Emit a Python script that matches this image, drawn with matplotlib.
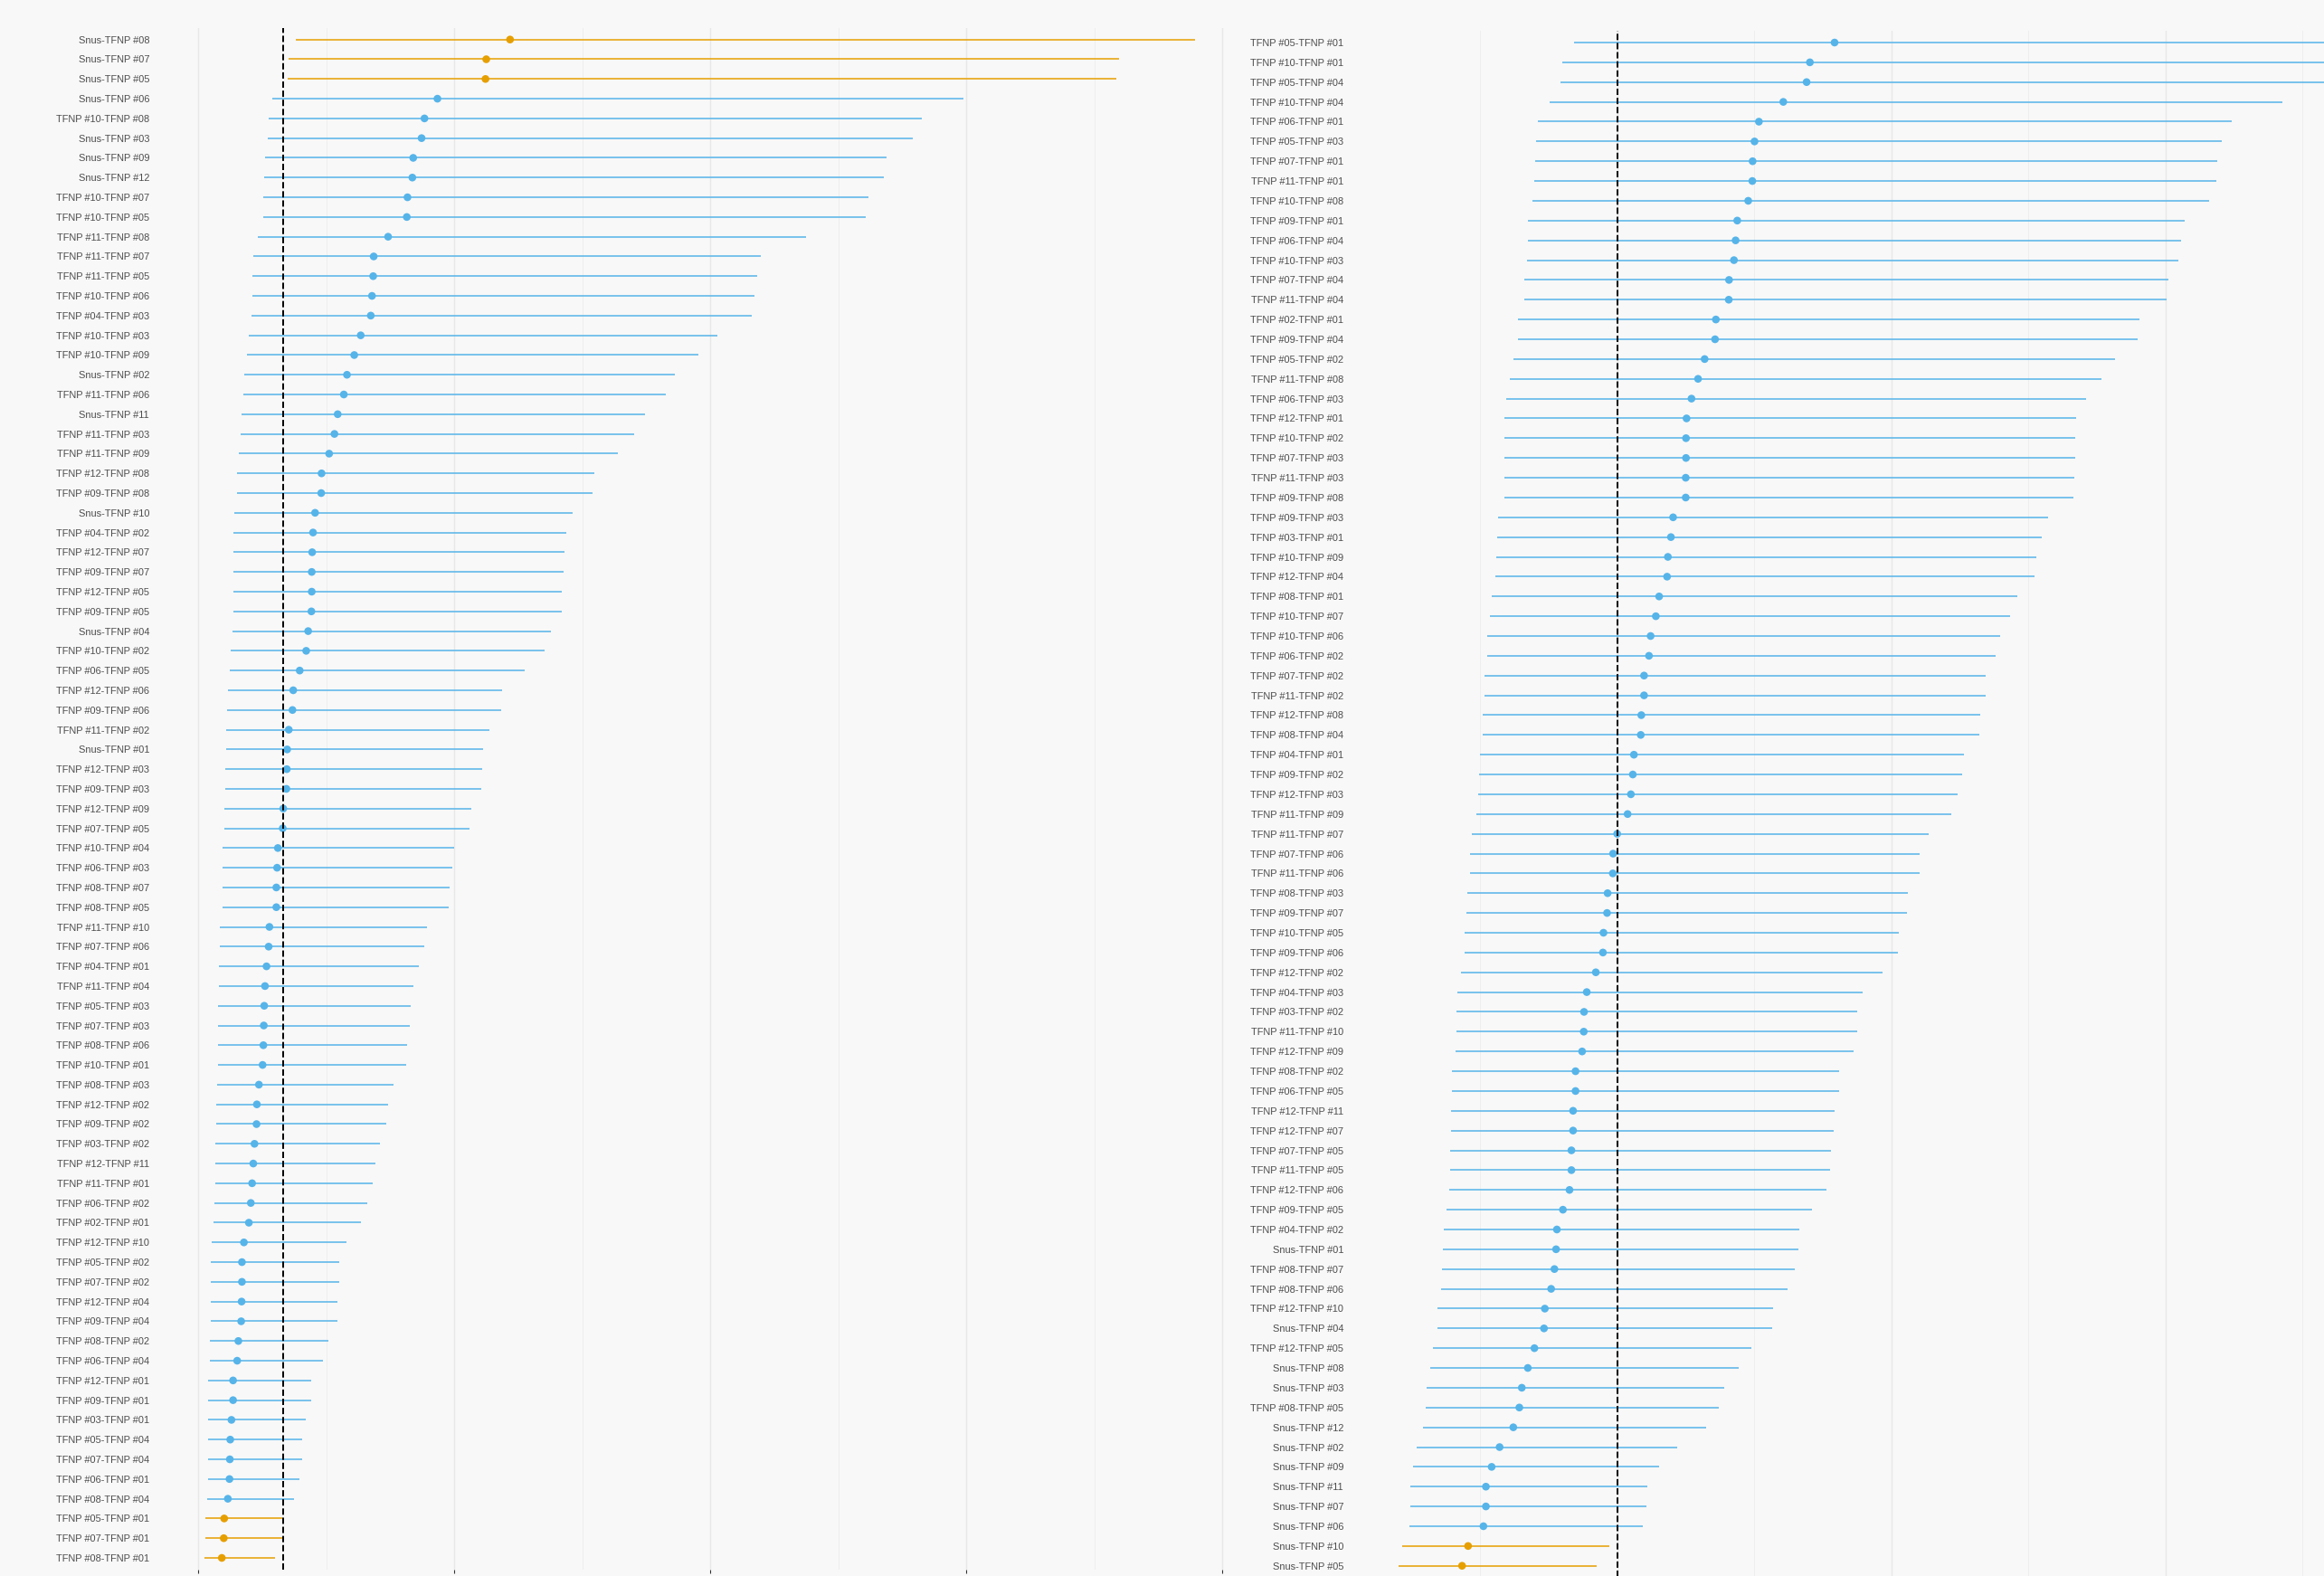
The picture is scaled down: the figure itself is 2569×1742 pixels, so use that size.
import numpy as np
import matplotlib.pyplot as plt

# pairwise product comparisons, ratio with 95% CI (two outcomes, one per panel)
left_labels = [
    'Snus-TFNP #08', 'Snus-TFNP #07', 'Snus-TFNP #05', 'Snus-TFNP #06', 'TFNP #10-TFNP #08',
    'Snus-TFNP #03', 'Snus-TFNP #09', 'Snus-TFNP #12', 'TFNP #10-TFNP #07', 'TFNP #10-TFNP #05',
    'TFNP #11-TFNP #08', 'TFNP #11-TFNP #07', 'TFNP #11-TFNP #05', 'TFNP #10-TFNP #06', 'TFNP #04-TFNP #03',
    'TFNP #10-TFNP #03', 'TFNP #10-TFNP #09', 'Snus-TFNP #02', 'TFNP #11-TFNP #06', 'Snus-TFNP #11',
    'TFNP #11-TFNP #03', 'TFNP #11-TFNP #09', 'TFNP #12-TFNP #08', 'TFNP #09-TFNP #08', 'Snus-TFNP #10',
    'TFNP #04-TFNP #02', 'TFNP #12-TFNP #07', 'TFNP #09-TFNP #07', 'TFNP #12-TFNP #05', 'TFNP #09-TFNP #05',
    'Snus-TFNP #04', 'TFNP #10-TFNP #02', 'TFNP #06-TFNP #05', 'TFNP #12-TFNP #06', 'TFNP #09-TFNP #06',
    'TFNP #11-TFNP #02', 'Snus-TFNP #01', 'TFNP #12-TFNP #03', 'TFNP #09-TFNP #03', 'TFNP #12-TFNP #09',
    'TFNP #07-TFNP #05', 'TFNP #10-TFNP #04', 'TFNP #06-TFNP #03', 'TFNP #08-TFNP #07', 'TFNP #08-TFNP #05',
    'TFNP #11-TFNP #10', 'TFNP #07-TFNP #06', 'TFNP #04-TFNP #01', 'TFNP #11-TFNP #04', 'TFNP #05-TFNP #03',
    'TFNP #07-TFNP #03', 'TFNP #08-TFNP #06', 'TFNP #10-TFNP #01', 'TFNP #08-TFNP #03', 'TFNP #12-TFNP #02',
    'TFNP #09-TFNP #02', 'TFNP #03-TFNP #02', 'TFNP #12-TFNP #11', 'TFNP #11-TFNP #01', 'TFNP #06-TFNP #02',
    'TFNP #02-TFNP #01', 'TFNP #12-TFNP #10', 'TFNP #05-TFNP #02', 'TFNP #07-TFNP #02', 'TFNP #12-TFNP #04',
    'TFNP #09-TFNP #04', 'TFNP #08-TFNP #02', 'TFNP #06-TFNP #04', 'TFNP #12-TFNP #01', 'TFNP #09-TFNP #01',
    'TFNP #03-TFNP #01', 'TFNP #05-TFNP #04', 'TFNP #07-TFNP #04', 'TFNP #06-TFNP #01', 'TFNP #08-TFNP #04',
    'TFNP #05-TFNP #01', 'TFNP #07-TFNP #01', 'TFNP #08-TFNP #01',
]
left_est = np.array([
    3.655, 3.376, 3.367, 2.804, 2.652, 2.618, 2.520, 2.510, 2.453, 2.445,
    2.226, 2.057, 2.051, 2.037, 2.023, 1.905, 1.829, 1.744, 1.707, 1.635,
    1.597, 1.535, 1.446, 1.442, 1.370, 1.346, 1.336, 1.331, 1.331, 1.327,
    1.289, 1.266, 1.190, 1.114, 1.105, 1.062, 1.043, 1.039, 1.034, 0.997,
    0.991, 0.934, 0.925, 0.916, 0.916, 0.835, 0.826, 0.801, 0.783, 0.774,
    0.769, 0.764, 0.755, 0.712, 0.688, 0.684, 0.660, 0.646, 0.632, 0.617,
    0.594, 0.536, 0.513, 0.513, 0.509, 0.504, 0.471, 0.457, 0.409, 0.409,
    0.390, 0.376, 0.371, 0.367, 0.348, 0.305, 0.300, 0.277,
])
left_lo = np.array([
    1.143, 1.062, 1.048, 0.872, 0.830, 0.816, 0.783, 0.778, 0.763, 0.759,
    0.698, 0.641, 0.636, 0.636, 0.625, 0.594, 0.575, 0.541, 0.532, 0.509,
    0.494, 0.480, 0.452, 0.452, 0.423, 0.413, 0.413, 0.409, 0.409, 0.409,
    0.400, 0.386, 0.367, 0.348, 0.342, 0.329, 0.324, 0.319, 0.319, 0.310,
    0.310, 0.281, 0.281, 0.281, 0.281, 0.253, 0.253, 0.244, 0.244, 0.234,
    0.234, 0.234, 0.234, 0.219, 0.210, 0.210, 0.201, 0.196, 0.196, 0.191,
    0.182, 0.158, 0.148, 0.148, 0.148, 0.148, 0.139, 0.139, 0.121, 0.121,
    0.121, 0.111, 0.111, 0.111, 0.102, 0.087, 0.087, 0.077,
])
left_hi = np.array([
    11.678, 10.792, 10.757, 8.968, 8.481, 8.375, 8.067, 8.030, 7.855, 7.821,
    7.124, 6.589, 6.551, 6.520, 6.485, 6.085, 5.859, 5.581, 5.476, 5.234,
    5.110, 4.919, 4.640, 4.626, 4.389, 4.318, 4.290, 4.281, 4.266, 4.256,
    4.129, 4.062, 3.822, 3.557, 3.547, 3.409, 3.344, 3.329, 3.319, 3.196,
    3.178, 2.998, 2.979, 2.950, 2.936, 2.681, 2.652, 2.587, 2.520, 2.487,
    2.477, 2.445, 2.435, 2.288, 2.222, 2.207, 2.127, 2.075, 2.042, 1.980,
    1.909, 1.739, 1.650, 1.650, 1.635, 1.630, 1.521, 1.464, 1.323, 1.323,
    1.266, 1.214, 1.214, 1.185, 1.124, 0.982, 0.982, 0.901,
])

right_labels = [
    'TFNP #05-TFNP #01', 'TFNP #10-TFNP #01', 'TFNP #05-TFNP #04', 'TFNP #10-TFNP #04', 'TFNP #06-TFNP #01',
    'TFNP #05-TFNP #03', 'TFNP #07-TFNP #01', 'TFNP #11-TFNP #01', 'TFNP #10-TFNP #08', 'TFNP #09-TFNP #01',
    'TFNP #06-TFNP #04', 'TFNP #10-TFNP #03', 'TFNP #07-TFNP #04', 'TFNP #11-TFNP #04', 'TFNP #02-TFNP #01',
    'TFNP #09-TFNP #04', 'TFNP #05-TFNP #02', 'TFNP #11-TFNP #08', 'TFNP #06-TFNP #03', 'TFNP #12-TFNP #01',
    'TFNP #10-TFNP #02', 'TFNP #07-TFNP #03', 'TFNP #11-TFNP #03', 'TFNP #09-TFNP #08', 'TFNP #09-TFNP #03',
    'TFNP #03-TFNP #01', 'TFNP #10-TFNP #09', 'TFNP #12-TFNP #04', 'TFNP #08-TFNP #01', 'TFNP #10-TFNP #07',
    'TFNP #10-TFNP #06', 'TFNP #06-TFNP #02', 'TFNP #07-TFNP #02', 'TFNP #11-TFNP #02', 'TFNP #12-TFNP #08',
    'TFNP #08-TFNP #04', 'TFNP #04-TFNP #01', 'TFNP #09-TFNP #02', 'TFNP #12-TFNP #03', 'TFNP #11-TFNP #09',
    'TFNP #11-TFNP #07', 'TFNP #07-TFNP #06', 'TFNP #11-TFNP #06', 'TFNP #08-TFNP #03', 'TFNP #09-TFNP #07',
    'TFNP #10-TFNP #05', 'TFNP #09-TFNP #06', 'TFNP #12-TFNP #02', 'TFNP #04-TFNP #03', 'TFNP #03-TFNP #02',
    'TFNP #11-TFNP #10', 'TFNP #12-TFNP #09', 'TFNP #08-TFNP #02', 'TFNP #06-TFNP #05', 'TFNP #12-TFNP #11',
    'TFNP #12-TFNP #07', 'TFNP #07-TFNP #05', 'TFNP #11-TFNP #05', 'TFNP #12-TFNP #06', 'TFNP #09-TFNP #05',
    'TFNP #04-TFNP #02', 'Snus-TFNP #01', 'TFNP #08-TFNP #07', 'TFNP #08-TFNP #06', 'TFNP #12-TFNP #10',
    'Snus-TFNP #04', 'TFNP #12-TFNP #05', 'Snus-TFNP #08', 'Snus-TFNP #03', 'TFNP #08-TFNP #05',
    'Snus-TFNP #12', 'Snus-TFNP #02', 'Snus-TFNP #09', 'Snus-TFNP #11', 'Snus-TFNP #07',
    'Snus-TFNP #06', 'Snus-TFNP #10', 'Snus-TFNP #05',
]
right_est = np.array([
    1.792, 1.702, 1.690, 1.605, 1.516, 1.500, 1.493, 1.492, 1.477, 1.437,
    1.431, 1.425, 1.407, 1.406, 1.359, 1.356, 1.318, 1.294, 1.270, 1.252,
    1.250, 1.250, 1.249, 1.249, 1.203, 1.195, 1.184, 1.181, 1.152, 1.140,
    1.121, 1.115, 1.097, 1.097, 1.087, 1.085, 1.060, 1.056, 1.049, 1.037,
    0.999, 0.984, 0.983, 0.964, 0.962, 0.949, 0.947, 0.921, 0.888, 0.878,
    0.877, 0.871, 0.847, 0.847, 0.838, 0.838, 0.832, 0.832, 0.825, 0.801,
    0.779, 0.776, 0.770, 0.758, 0.735, 0.732, 0.697, 0.673, 0.651, 0.642,
    0.620, 0.570, 0.541, 0.520, 0.520, 0.511, 0.455, 0.433,
])
right_lo = np.array([
    0.840, 0.798, 0.792, 0.752, 0.711, 0.704, 0.701, 0.698, 0.691, 0.673,
    0.672, 0.670, 0.660, 0.660, 0.638, 0.638, 0.619, 0.608, 0.595, 0.586,
    0.586, 0.586, 0.586, 0.586, 0.564, 0.560, 0.557, 0.554, 0.541, 0.535,
    0.526, 0.524, 0.515, 0.515, 0.509, 0.508, 0.498, 0.495, 0.492, 0.486,
    0.470, 0.462, 0.461, 0.452, 0.449, 0.443, 0.443, 0.430, 0.415, 0.411,
    0.411, 0.408, 0.397, 0.397, 0.393, 0.393, 0.390, 0.390, 0.386, 0.377,
    0.367, 0.364, 0.361, 0.356, 0.343, 0.343, 0.328, 0.316, 0.304, 0.302,
    0.292, 0.268, 0.255, 0.244, 0.244, 0.241, 0.215, 0.203,
])
right_hi = np.array([
    3.820, 3.630, 3.610, 3.427, 3.240, 3.205, 3.189, 3.186, 3.158, 3.068,
    3.056, 3.045, 3.009, 3.004, 2.903, 2.897, 2.816, 2.766, 2.711, 2.674,
    2.671, 2.671, 2.667, 2.664, 2.571, 2.548, 2.528, 2.521, 2.458, 2.433,
    2.395, 2.381, 2.344, 2.343, 2.322, 2.321, 2.264, 2.256, 2.240, 2.218,
    2.134, 2.102, 2.102, 2.060, 2.056, 2.026, 2.023, 1.966, 1.895, 1.874,
    1.873, 1.860, 1.808, 1.807, 1.792, 1.789, 1.779, 1.776, 1.763, 1.711,
    1.662, 1.659, 1.648, 1.621, 1.569, 1.563, 1.489, 1.441, 1.390, 1.370,
    1.325, 1.218, 1.153, 1.110, 1.107, 1.091, 0.972, 0.925,
])

BLUE = '#56B4E9'
ORANGE = '#E69F00'
BG = '#f8f8f8'

plt.rcParams['font.family'] = ['Liberation Sans', 'DejaVu Sans']


def forest(ax, labels, est, lo, hi, major, minor):
    """one forest panel: CI segments, point estimates, dashed null line at 1"""
    n = len(labels)
    y = np.arange(1, n + 1)
    # orange when the interval does not cover 1
    sig = (lo > 1) | (hi < 1)
    colors = [ORANGE if s else BLUE for s in sig]

    ax.set_facecolor(BG)
    ax.set_xticks(major)
    ax.set_xticks(minor, minor=True)
    ax.grid(axis='x', which='major', color='#e8e8e8', lw=1.0, zorder=0)
    ax.grid(axis='x', which='minor', color='#ececec', lw=0.55, zorder=0)
    ax.grid(axis='y', visible=False)

    ax.hlines(y, lo, hi, colors=colors, lw=1.1, zorder=2)
    ax.scatter(est, y, c=colors, s=38, linewidths=0, zorder=3)
    ax.axvline(1, color='black', lw=1.4, ls=(0, (3.6, 1.6)), zorder=4)

    ax.set_yticks(y)
    ax.set_yticklabels(labels)
    ax.set_ylim(n + 0.6, 0.4)
    for s in ax.spines.values():
        s.set_visible(False)
    ax.tick_params(axis='y', length=0, pad=4.7, labelsize=7.9, labelcolor='#4d4d4d')
    ax.tick_params(axis='x', which='major', length=3, width=0.8, color='#333333',
                   labelbottom=False)
    ax.tick_params(axis='x', which='minor', length=0)


fig = plt.figure(figsize=(25.69, 17.42), dpi=100, facecolor=BG)

ax1 = fig.add_axes([0.06680, 0.00397, 0.46863, 0.97845])
forest(ax1, left_labels, left_est, left_lo, left_hi,
       major=[0, 3, 6, 9, 12], minor=[1.5, 4.5, 7.5, 10.5])
ax1.set_xlim(-0.503, 12.26)

# second panel runs past the right edge of the page
ax2 = fig.add_axes([0.58061, -0.00105, 0.46921, 0.98159])
forest(ax2, right_labels, right_est, right_lo, right_hi,
       major=[1, 2, 3, 4], minor=[0.5, 1.5, 2.5, 3.5])
ax2.set_xlim(0.0218, 4.0)

fig.savefig('out.png', dpi=100, facecolor=BG)
